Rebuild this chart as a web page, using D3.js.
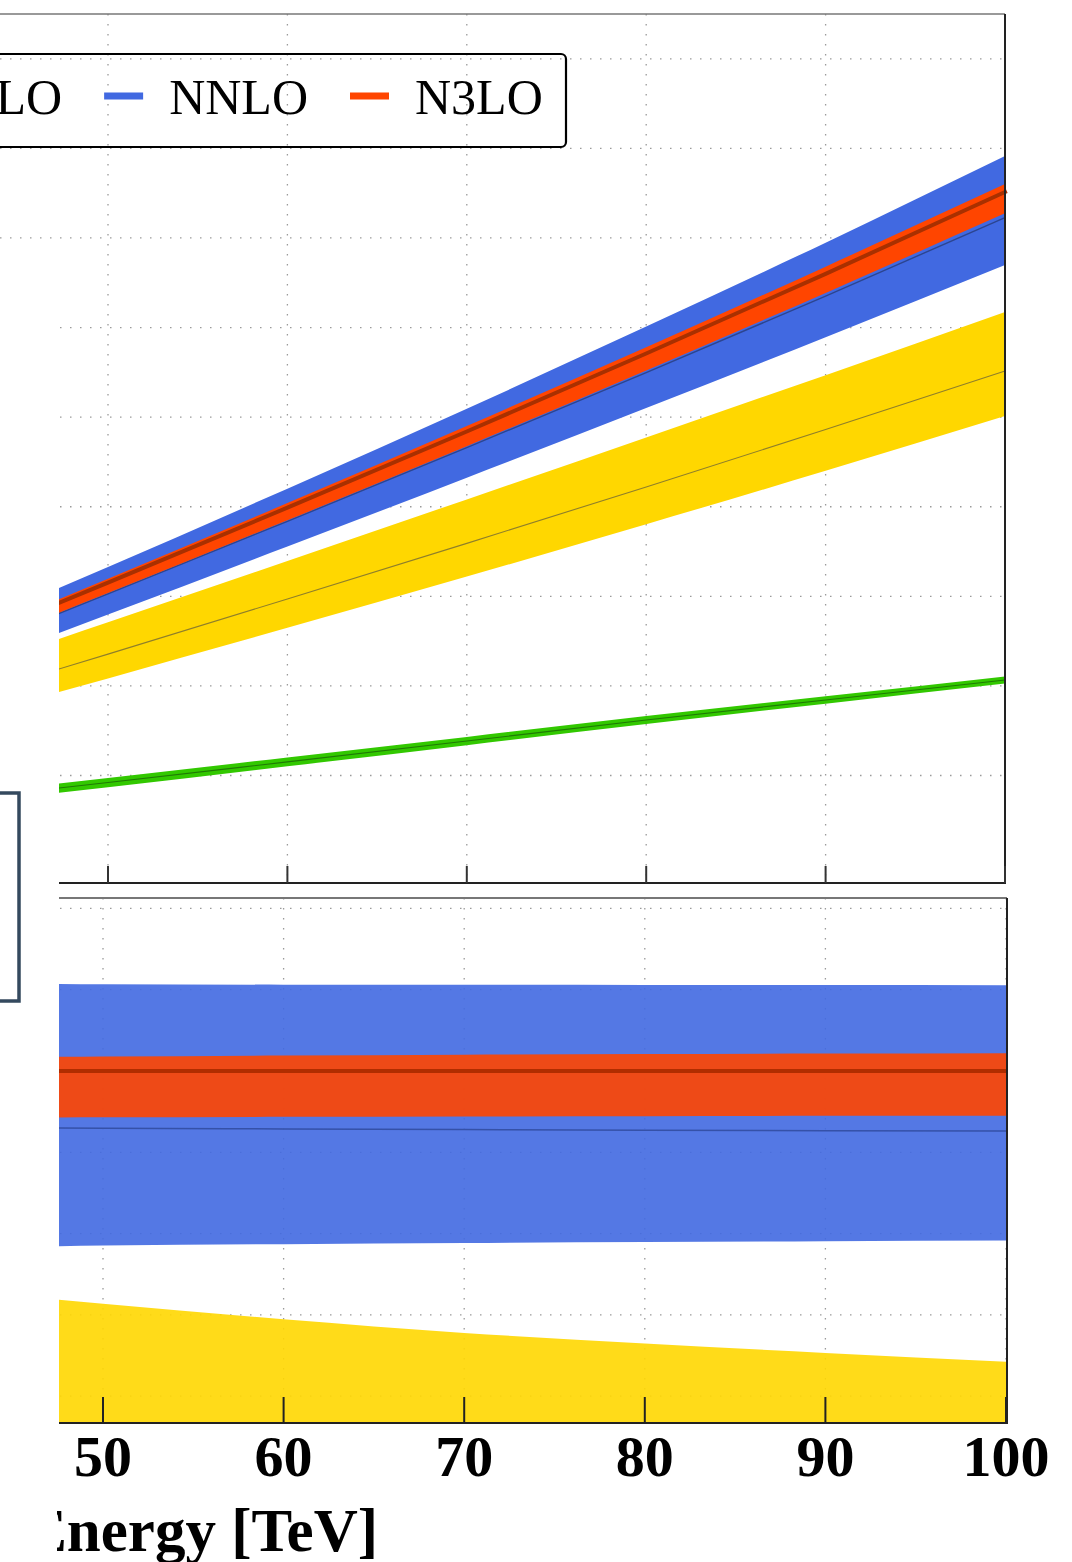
<!DOCTYPE html>
<html>
<head>
<meta charset="utf-8">
<script src="https://cdn.jsdelivr.net/npm/d3@7"></script>
<style>
  html, body { margin: 0; padding: 0; background: #fff; }
  svg { display: block; }
</style>
</head>
<body>
<svg id="chart" width="1072" height="1562"></svg>
<script>
// ---- data -------------------------------------------------------------
const energies = [47, 50, 60, 70, 80, 90, 100];          // collider energy [TeV]
const xTicks = [50, 60, 70, 80, 90, 100];

// cross section bands (upper panel)
const loUp    = [190.6, 197.2, 220.1, 243.1, 266.3, 288.4, 310.5];
const loMid   = [185.4, 192.1, 215.2, 238.5, 261.9, 284.3, 306.6];
const loDn    = [180.2, 187.0, 210.3, 233.9, 257.5, 280.2, 302.7];
const nloUp   = [350.6, 371.0, 439.5, 508.2, 577.4, 646.9, 717.4];
const nloMid  = [317.2, 335.5, 397.0, 459.1, 522.1, 586.2, 651.5];
const nloDn   = [291.6, 308.4, 364.8, 422.0, 480.5, 540.1, 601.3];
const nnloUp  = [407.1, 432.7, 520.2, 609.4, 701.1, 794.8, 891.5];
const nnloMid = [378.8, 402.7, 483.7, 565.9, 649.7, 735.1, 822.7];
const nnloDn  = [357.0, 379.6, 455.6, 532.3, 610.2, 689.2, 769.8];
const n3loUp  = [394.6, 419.6, 504.1, 590.1, 678.0, 768.0, 860.2];
const n3loMid = [390.5, 415.2, 498.9, 584.0, 671.0, 760.0, 851.3];
const n3loDn  = [379.6, 403.6, 484.9, 567.6, 652.2, 738.7, 827.5];
const sigmaGrid = [200, 300, 400, 500, 600, 700, 800, 900, 1000];

// ratio to the N3LO central value (lower panel)
const rNloUp   = [0.8598, 0.8568, 0.8473, 0.8389, 0.8324, 0.8266, 0.8212];
const rNloDn   = [0.75, 0.75, 0.75, 0.75, 0.75, 0.75, 0.75];
const rNnloUp  = [1.0535, 1.0533, 1.0531, 1.0530, 1.0529, 1.0529, 1.0528];
const rNnloMid = [0.9649, 0.9648, 0.9644, 0.9640, 0.9636, 0.9633, 0.9631];
const rNnloDn  = [0.8922, 0.8926, 0.8935, 0.8942, 0.8948, 0.8953, 0.8957];
const rN3loUp  = [1.0087, 1.0089, 1.0095, 1.0100, 1.0104, 1.0107, 1.0109];
const rN3loMid = [1.0, 1.0, 1.0, 1.0, 1.0, 1.0, 1.0];
const rN3loDn  = [0.9714, 0.9715, 0.9718, 0.9720, 0.9722, 0.9724, 0.9725];
const ratioGrid = [0.80, 0.85, 0.90, 0.95, 1.00, 1.05, 1.10];

const legendNames  = ["LO", "NLO", "NNLO", "N3LO"];
const legendColors = ["#32c800", "#ffd700", "#4169e1", "#ff4500"];

// ---- layout -----------------------------------------------------------
const svg = d3.select("#chart");
const serif = "'Liberation Serif', 'Times New Roman', serif";

const xTop = d3.scaleLinear().domain([50, 100]).range([108, 1005]);
const yTop = d3.scaleLinear().domain([80, 1050]).range([883, 14]);
const xBot = d3.scaleLinear().domain([50, 100]).range([103, 1006]);
const yBot = d3.scaleLinear().domain([0.7835, 1.1064]).range([1423, 898]);

const defs = svg.append("defs");
defs.append("clipPath").attr("id", "clipTop")
  .append("rect").attr("x", 59).attr("y", 14).attr("width", 960).attr("height", 869);
defs.append("clipPath").attr("id", "clipBot")
  .append("rect").attr("x", 59).attr("y", 898).attr("width", 960).attr("height", 525);

const gridStyle = sel => sel.attr("stroke", "#9a9a9a").attr("stroke-width", 1.3)
  .attr("stroke-dasharray", "1.5 8.5").attr("fill", "none");

const idx = energies.map((e, i) => i);

// ---- upper panel ------------------------------------------------------
const gTop = svg.append("g");
gTop.selectAll("line.hg").data(sigmaGrid).join("line")
  .attr("x1", 0).attr("x2", 1005)
  .attr("y1", d => yTop(d)).attr("y2", d => yTop(d)).call(gridStyle);
gTop.selectAll("line.vg").data(xTicks).join("line")
  .attr("x1", d => xTop(d)).attr("x2", d => xTop(d))
  .attr("y1", 14).attr("y2", 883).call(gridStyle);

const bandTop = (up, dn) => d3.area()
  .x(i => xTop(energies[i])).y0(i => yTop(dn[i])).y1(i => yTop(up[i]))
  .curve(d3.curveMonotoneX)(idx);
const lineTop = v => d3.line()
  .x(i => xTop(energies[i])).y(i => yTop(v[i]))
  .curve(d3.curveMonotoneX)(idx);

const topPlot = gTop.append("g").attr("clip-path", "url(#clipTop)");
topPlot.append("path").attr("d", bandTop(loUp, loDn)).attr("fill", "#32c800");
topPlot.append("path").attr("d", lineTop(loMid)).attr("fill", "none")
  .attr("stroke", "#1f7a05").attr("stroke-width", 1.1);
topPlot.append("path").attr("d", bandTop(nloUp, nloDn)).attr("fill", "#ffd700");
topPlot.append("path").attr("d", lineTop(nloMid)).attr("fill", "none")
  .attr("stroke", "#8f7f2a").attr("stroke-width", 1.1);
topPlot.append("path").attr("d", bandTop(nnloUp, nnloDn)).attr("fill", "#4169e1");
topPlot.append("path").attr("d", lineTop(nnloMid)).attr("fill", "none")
  .attr("stroke", "#2c4590").attr("stroke-width", 1.4);
topPlot.append("path").attr("d", bandTop(n3loUp, n3loDn)).attr("fill", "#ff4500");
topPlot.append("path").attr("d", lineTop(n3loMid)).attr("fill", "none")
  .attr("stroke", "#a93000").attr("stroke-width", 4).attr("stroke-linecap", "square");

// frame
gTop.append("line").attr("x1", 0).attr("x2", 1005).attr("y1", 14).attr("y2", 14)
  .attr("stroke", "#777").attr("stroke-width", 1.5);
gTop.append("line").attr("x1", 1005).attr("x2", 1005).attr("y1", 14).attr("y2", 884)
  .attr("stroke", "#222").attr("stroke-width", 2);
gTop.append("line").attr("x1", 59).attr("x2", 1006).attr("y1", 883).attr("y2", 883)
  .attr("stroke", "#222").attr("stroke-width", 2);
gTop.selectAll("line.tk").data(xTicks).join("line")
  .attr("x1", d => xTop(d)).attr("x2", d => xTop(d))
  .attr("y1", 883).attr("y2", 866).attr("stroke", "#333").attr("stroke-width", 2);

// legend: entries laid out right to left from the last one
const gLeg = svg.append("g");
const measure = name => {
  const p = gLeg.append("text").text(name)
    .attr("font-family", serif).attr("font-size", 50).attr("visibility", "hidden");
  const w = p.node().getComputedTextLength();
  p.remove();
  return w;
};
let textStart = 415;
let leftMost = textStart;
for (let k = legendNames.length - 1; k >= 0; k--) {
  gLeg.append("text").text(legendNames[k])
    .attr("font-family", serif).attr("font-size", 50).attr("fill", "#000")
    .attr("x", textStart).attr("y", 114);
  const swStart = textStart - 65;
  gLeg.append("rect").attr("x", swStart).attr("y", 92.5).attr("width", 39).attr("height", 7)
    .attr("fill", legendColors[k]);
  leftMost = swStart;
  if (k > 0) textStart = swStart - 42 - measure(legendNames[k - 1]);
}
const legLeft = leftMost - 30;
gLeg.insert("rect", ":first-child")
  .attr("x", legLeft).attr("y", 54).attr("width", 566 - legLeft).attr("height", 93)
  .attr("rx", 5).attr("fill", "none").attr("stroke", "#000").attr("stroke-width", 2.2);

// ---- lower panel ------------------------------------------------------
const gBot = svg.append("g");
gBot.selectAll("line.hg").data(ratioGrid).join("line")
  .attr("x1", 0).attr("x2", 1007)
  .attr("y1", d => yBot(d)).attr("y2", d => yBot(d)).call(gridStyle);
gBot.selectAll("line.vg").data(xTicks).join("line")
  .attr("x1", d => xBot(d)).attr("x2", d => xBot(d))
  .attr("y1", 898).attr("y2", 1423).call(gridStyle);

const bandBot = (up, dn) => d3.area()
  .x(i => xBot(energies[i])).y0(i => yBot(dn[i])).y1(i => yBot(up[i]))
  .curve(d3.curveMonotoneX)(idx);
const lineBot = v => d3.line()
  .x(i => xBot(energies[i])).y(i => yBot(v[i]))
  .curve(d3.curveMonotoneX)(idx);

const botPlot = gBot.append("g").attr("clip-path", "url(#clipBot)");
botPlot.append("path").attr("d", bandBot(rNloUp, rNloDn)).attr("fill", "#ffd700").attr("fill-opacity", 0.9);
botPlot.append("path").attr("d", bandBot(rNnloUp, rNnloDn)).attr("fill", "#4169e1").attr("fill-opacity", 0.9);
botPlot.append("path").attr("d", lineBot(rNnloMid)).attr("fill", "none")
  .attr("stroke", "#3551a8").attr("stroke-width", 1.5);
botPlot.append("path").attr("d", bandBot(rN3loUp, rN3loDn)).attr("fill", "#ff4500").attr("fill-opacity", 0.9);
botPlot.append("path").attr("d", lineBot(rN3loMid)).attr("fill", "none")
  .attr("stroke", "#b02d00").attr("stroke-width", 4).attr("stroke-linecap", "square");

gBot.append("line").attr("x1", 59).attr("x2", 1007).attr("y1", 898).attr("y2", 898)
  .attr("stroke", "#777").attr("stroke-width", 2);
gBot.append("line").attr("x1", 1007).attr("x2", 1007).attr("y1", 898).attr("y2", 1424)
  .attr("stroke", "#222").attr("stroke-width", 2);
gBot.append("line").attr("x1", 59).attr("x2", 1008).attr("y1", 1423).attr("y2", 1423)
  .attr("stroke", "#222").attr("stroke-width", 2);
gBot.selectAll("line.tk").data(xTicks).join("line")
  .attr("x1", d => xBot(d)).attr("x2", d => xBot(d))
  .attr("y1", 1423).attr("y2", 1397).attr("stroke", "#222").attr("stroke-width", 2);

// axis labels
gBot.selectAll("text.tl").data(xTicks).join("text")
  .attr("x", d => xBot(d)).attr("y", 1476)
  .attr("text-anchor", "middle").attr("font-family", serif)
  .attr("font-weight", "bold").attr("font-size", 58).attr("fill", "#000")
  .text(d => d);
svg.append("text").attr("x", 378).attr("y", 1551)
  .attr("text-anchor", "end").attr("font-family", serif)
  .attr("font-weight", "bold").attr("font-size", 61).attr("fill", "#000")
  .text("Energy [TeV]");

// left margin panel with its framed box
svg.append("rect").attr("x", 0).attr("y", 242).attr("width", 57).attr("height", 1320).attr("fill", "#fff");
svg.append("rect").attr("x", -40).attr("y", 793).attr("width", 59).attr("height", 208)
  .attr("fill", "none").attr("stroke", "#34495e").attr("stroke-width", 3.5);
</script>
</body>
</html>
